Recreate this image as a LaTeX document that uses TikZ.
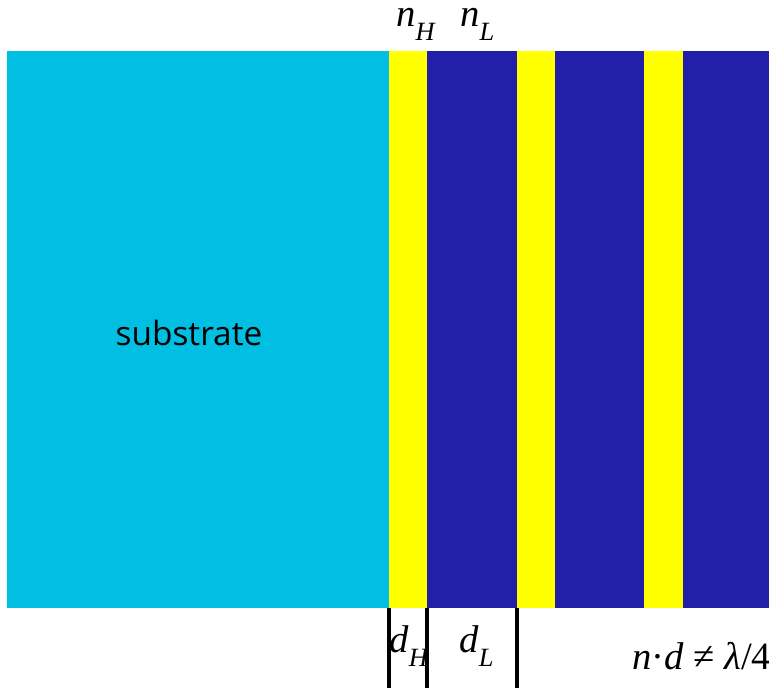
\documentclass[tikz,border=0pt]{standalone}
\usepackage{fontspec}
\setmainfont{Liberation Serif}
\newfontfamily\labelsans{Open Sans}
\usetikzlibrary{positioning}
\definecolor{SubCyan}{HTML}{00BFE3}
\definecolor{HighYellow}{HTML}{FFFF00}
\definecolor{LowBlue}{HTML}{231FA8}
\newcommand{\idx}[2]{\textit{#1}\raisebox{-0.34em}{\fontsize{15}{16}\selectfont\textit{#2}}}

\begin{document}
\begin{tikzpicture}[x=0.02cm,y=-0.02cm,
  lbl/.style={inner sep=0pt,anchor=base west,text height=1.1ex,font=\fontsize{22}{24}\selectfont},
  thick line/.style={line width=2pt}]
\useasboundingbox (0,0) rectangle (769,688);
% substrate and the stack
\fill[SubCyan] (7,51) rectangle (389,608);
\foreach \x/\w in {389/38,517/38,644/39}{
  \fill[HighYellow] (\x,51) rectangle ++(\w,557);
}
\foreach \x/\w in {427/90,555/89,683/86}{
  \fill[LowBlue] (\x,51) rectangle ++(\w,557);
}
\node[font=\labelsans\fontsize{19}{22}\selectfont] (sub) at (189,333) {substrate};
% indices on top
\node[lbl] (nH) at (396,27) {\idx{n}{H}};
\node[lbl] (nL) at (460,27) {\idx{n}{L}};
% thickness marks
\coordinate (a1) at (389,608); \coordinate (a2) at (389,688);
\coordinate (b1) at (427,608); \coordinate (b2) at (427,688);
\coordinate (c1) at (517,608); \coordinate (c2) at (517,688);
\draw[thick line] (a1) -- (a2);
\draw[thick line] (b1) -- (b2);
\draw[thick line] (c1) -- (c2);
\node[lbl] (dH) at (389,653) {\idx{d}{H}};
\node[lbl] (dL) at (459,653) {\idx{d}{L}};
\node[lbl] (cond) at (632,670) {\textit{n}·\textit{d} ≠ \textit{λ}/4};
\end{tikzpicture}
\end{document}
